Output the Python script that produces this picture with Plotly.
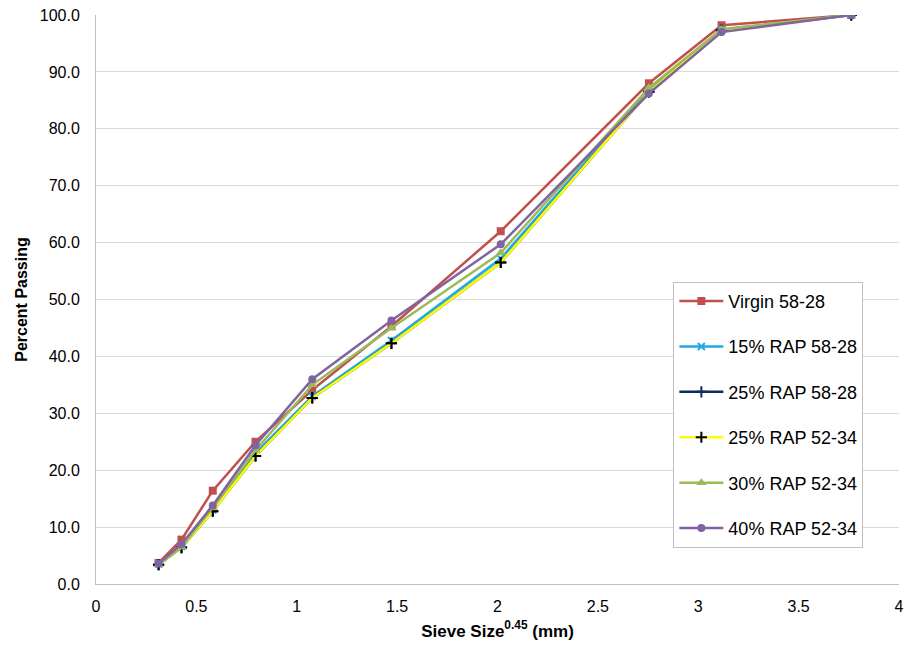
import plotly.graph_objects as go

sieve_mm = [0.075, 0.15, 0.3, 0.6, 1.18, 2.36, 4.75, 9.5, 12.5, 19.0]
x_vals = [s ** 0.45 for s in sieve_mm]

series_names = ["Virgin 58-28", "15% RAP 58-28", "25% RAP 58-28",
                "25% RAP 52-34", "30% RAP 52-34", "40% RAP 52-34"]
virgin_5828 = [3.7, 7.8, 16.4, 25.0, 34.1, 45.3, 62.0, 88.0, 98.2, 100.0]
rap15_5828 = [3.5, 6.6, 13.0, 23.0, 33.0, 42.8, 57.2, 86.8, 97.4, 100.0]
rap25_5828 = [3.4, 6.4, 12.8, 22.5, 32.7, 42.3, 56.5, 86.5, 97.3, 100.0]
rap25_5234 = [3.4, 6.4, 12.8, 22.5, 32.7, 42.3, 56.5, 86.5, 97.3, 100.0]
rap30_5234 = [3.4, 6.5, 13.4, 23.5, 35.0, 45.0, 58.2, 87.2, 97.5, 100.0]
rap40_5234 = [3.6, 7.0, 13.8, 24.4, 36.0, 46.3, 59.7, 86.2, 97.0, 100.0]

all_series = [virgin_5828, rap15_5828, rap25_5828, rap25_5234, rap30_5234, rap40_5234]
colors = ["#C0504D", "#1FA9E6", "#0F2A5C", "#FFFF00", "#9BBB59", "#8064A2"]
symbols = ["square", "x-thin", "cross-thin", "cross-thin", "triangle-up", "circle"]
msizes = [8, 7, 8, 8, 9, 8]
mline_colors = ["#C0504D", "#1FA9E6", "#0F2A5C", "#000000", "#9BBB59", "#8064A2"]

fig = go.Figure()
for i, (name, ys) in enumerate(zip(series_names, all_series)):
    fig.add_trace(go.Scatter(
        x=x_vals, y=ys, name=name, mode="lines+markers",
        legendgroup=f"g{i}",
        line=dict(color=colors[i], width=2.5),
        marker=dict(symbol=symbols[i], size=msizes[i], color=colors[i],
                    line=dict(color=mline_colors[i], width=2 if "thin" in symbols[i] else 0)),
    ))

font_family = "Liberation Sans, Arial, sans-serif"
fig.update_layout(
    width=910, height=648,
    margin=dict(l=96, r=6, t=15, b=64),
    paper_bgcolor="white", plot_bgcolor="white",
    font=dict(family=font_family, size=16, color="#000000"),
    showlegend=True,
    legend=dict(
        x=0.719, y=0.531, xanchor="left", yanchor="top",
        bgcolor="white", bordercolor="#BFBFBF", borderwidth=1,
        font=dict(size=18, color="#000000"),
        tracegroupgap=19, traceorder="grouped", itemwidth=44,
    ),
    xaxis=dict(
        range=[0, 4], dtick=0.5, tick0=0,
        showgrid=False, zeroline=False,
        showline=True, linecolor="#BFBFBF", linewidth=1,
        ticks="", tickfont=dict(size=16), ticklabelstandoff=8,
        title=dict(text="<b>Sieve Size<sup>0.45</sup> (mm)</b>", font=dict(size=17), standoff=10),
    ),
    yaxis=dict(
        range=[0, 100], dtick=10, tick0=0, tickformat=".1f",
        showgrid=True, gridcolor="#D9D9D9", gridwidth=1,
        zeroline=False,
        showline=True, linecolor="#BFBFBF", linewidth=1,
        ticks="", tickfont=dict(size=16), ticklabelstandoff=12,
        title=dict(text="<b>Percent Passing</b>", font=dict(size=16), standoff=8),
    ),
)

fig.write_html("out.html")
